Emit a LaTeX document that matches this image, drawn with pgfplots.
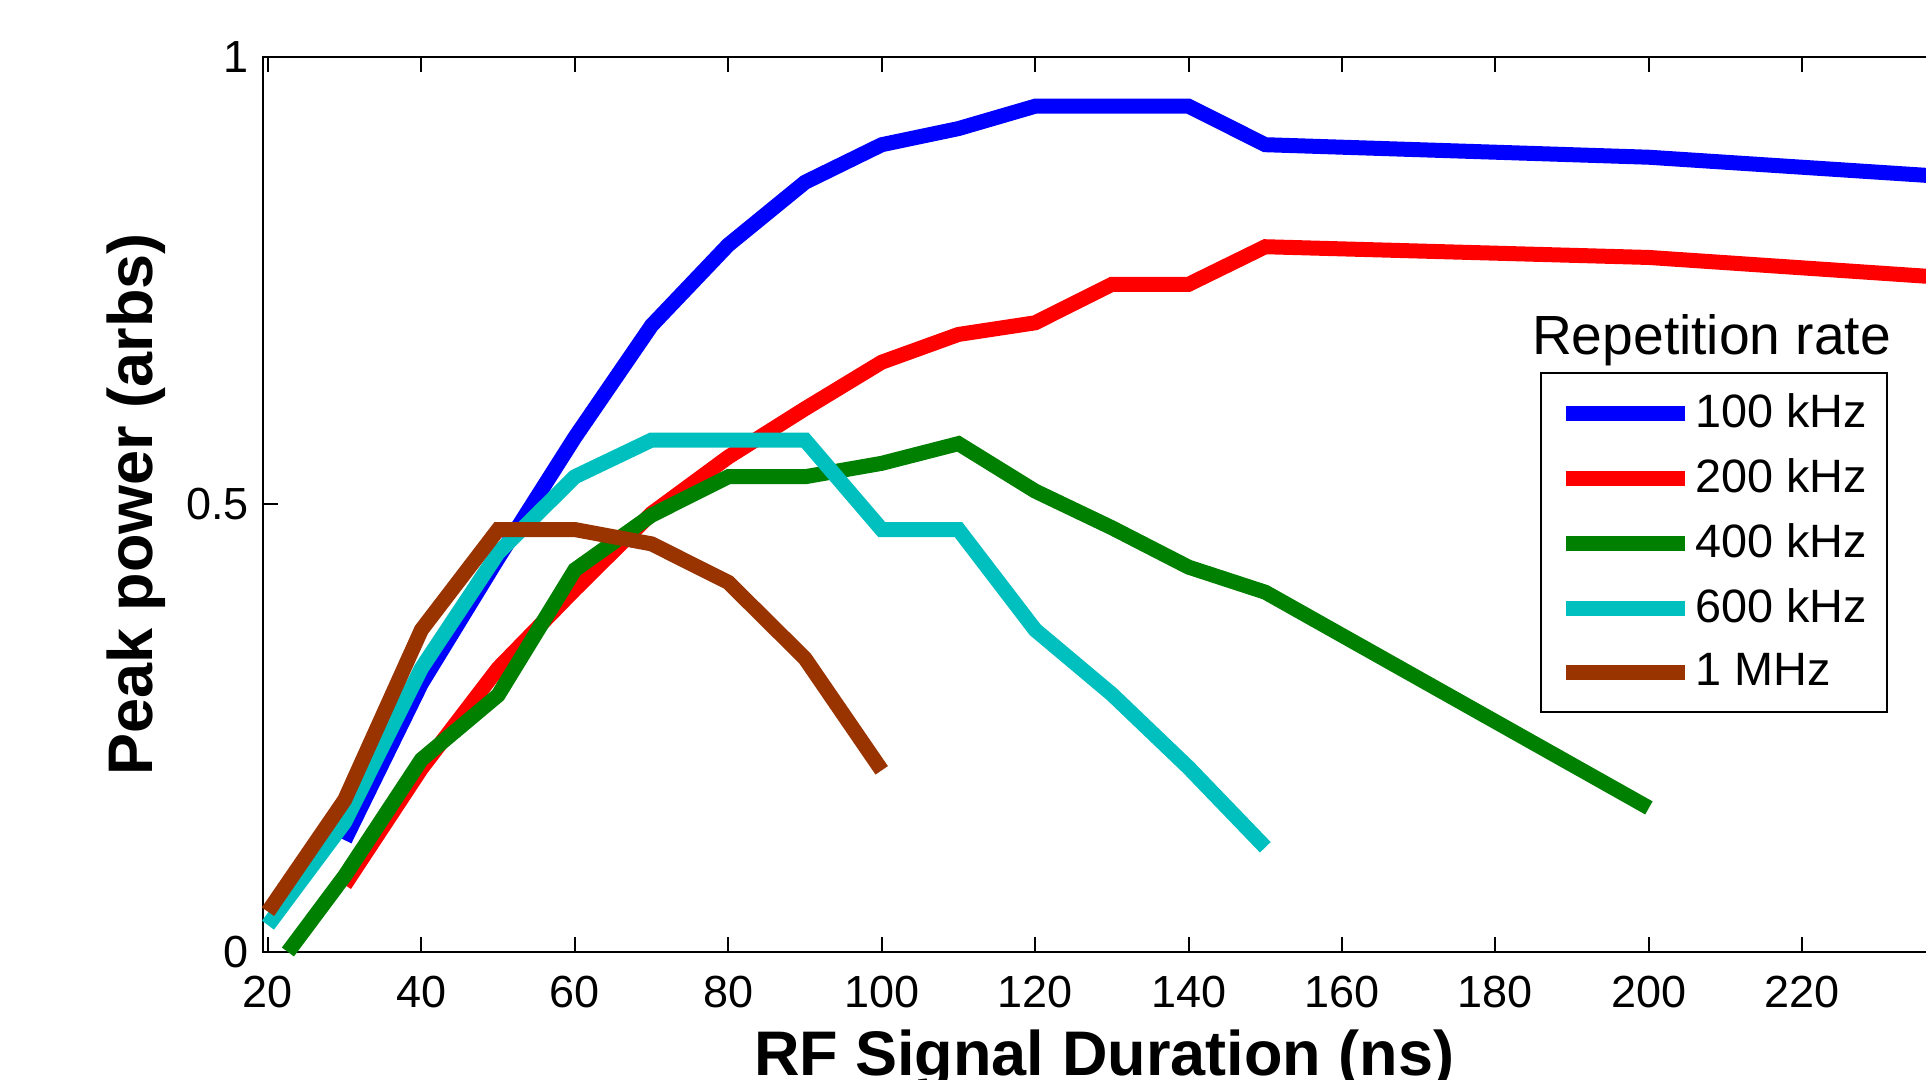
\documentclass[border=0pt]{standalone}
\usepackage{fontspec}
\setmainfont{Liberation Sans}
\usepackage{pgfplots}
\pgfplotsset{compat=1.18}
\definecolor{mblue}{HTML}{0000FF}
\definecolor{mred}{HTML}{FF0000}
\definecolor{mgreen}{HTML}{008000}
\definecolor{mcyan}{HTML}{00BFBF}
\definecolor{mbrown}{HTML}{993300}

\begin{document}
\begin{tikzpicture}
% the reference is a crop of a larger figure: 1926x1080 px at 0.25pt per px
\useasboundingbox (0,0) rectangle (481.5pt,270pt);
\clip (0,0) rectangle (481.5pt,270pt);
\begin{axis}[
  at={(65.75pt,32pt)}, anchor=south west,
  scale only axis,
  width=420.5pt, height=223.75pt,
  xmin=19.35, xmax=238.6,
  ymin=0, ymax=1,
  xtick={20,40,...,220},
  ytick={0,0.5,1},
  tick align=inside,
  major tick length=3.75pt,
  axis line style={line width=0.6pt},
  every tick/.style={black, line width=0.5pt},
  /pgf/number format/assume math mode=true,
  ticklabel style={font=\fontsize{11.25}{13}\selectfont},
  xticklabel style={yshift=-2.5pt},
  xlabel={RF Signal Duration (ns)},
  ylabel={Peak power (arbs)},
  xlabel style={font=\fontsize{15.75}{18}\selectfont\bfseries,
    at={(axis description cs:0.5,-0.1385)}, anchor=base},
  ylabel style={font=\fontsize{15.75}{18}\selectfont\bfseries,
    at={(axis description cs:-0.0654,0.5)}, anchor=base, rotate=0},
  clip=false,
  legend style={
    at={(axis description cs:0.9661,0.648)}, anchor=north east,
    font=\fontsize{11.7}{13}\selectfont,
    draw=black, line width=0.5pt,
    inner xsep=4.4pt, inner ysep=4pt,
    row sep=3.85pt,
    nodes={inner xsep=0.6pt, inner ysep=1.2pt},
  },
  legend cell align=left,
  legend image code/.code={\draw[#1] (0pt,0pt) -- (29.75pt,0pt);},
  every axis plot/.append style={line width=3.75pt, line cap=butt},
]
\addplot[color=mblue] coordinates {
  (30,0.125) (40,0.30) (50,0.44) (60,0.575) (70,0.70) (80,0.79) (90,0.86)
  (100,0.902) (110,0.92) (120,0.945) (130,0.945) (140,0.945) (150,0.902)
  (200,0.888) (250,0.86)
};
\addlegendentry{100 kHz}
\addplot[color=mred] coordinates {
  (30,0.075) (40,0.205) (50,0.317) (60,0.405) (70,0.49) (80,0.553) (90,0.607)
  (100,0.659) (110,0.69) (120,0.703) (130,0.746) (140,0.746) (150,0.788)
  (200,0.776) (250,0.747)
};
\addlegendentry{200 kHz}
\addplot[color=mgreen] coordinates {
  (22.6,0) (30,0.085) (40,0.215) (50,0.287) (60,0.427) (70,0.488) (80,0.531)
  (90,0.531) (100,0.546) (110,0.568) (120,0.515) (130,0.474) (140,0.43)
  (150,0.402) (200,0.161)
};
\addlegendentry{400 kHz}
\addplot[color=mcyan] coordinates {
  (20,0.03) (30,0.145) (40,0.317) (50,0.446) (60,0.531) (70,0.572) (80,0.572)
  (90,0.572) (100,0.472) (110,0.472) (120,0.36) (130,0.288) (140,0.206)
  (150,0.117)
};
\addlegendentry{600 kHz}
\addplot[color=mbrown] coordinates {
  (20,0.045) (30,0.17) (40,0.36) (50,0.472) (60,0.472) (70,0.456) (80,0.413)
  (90,0.328) (100,0.203)
};
\addlegendentry{1 MHz}
\end{axis}
\node[anchor=base, font=\fontsize{13.8}{15}\selectfont] at (427.9pt,181.25pt) {Repetition rate};
\end{tikzpicture}
\end{document}
